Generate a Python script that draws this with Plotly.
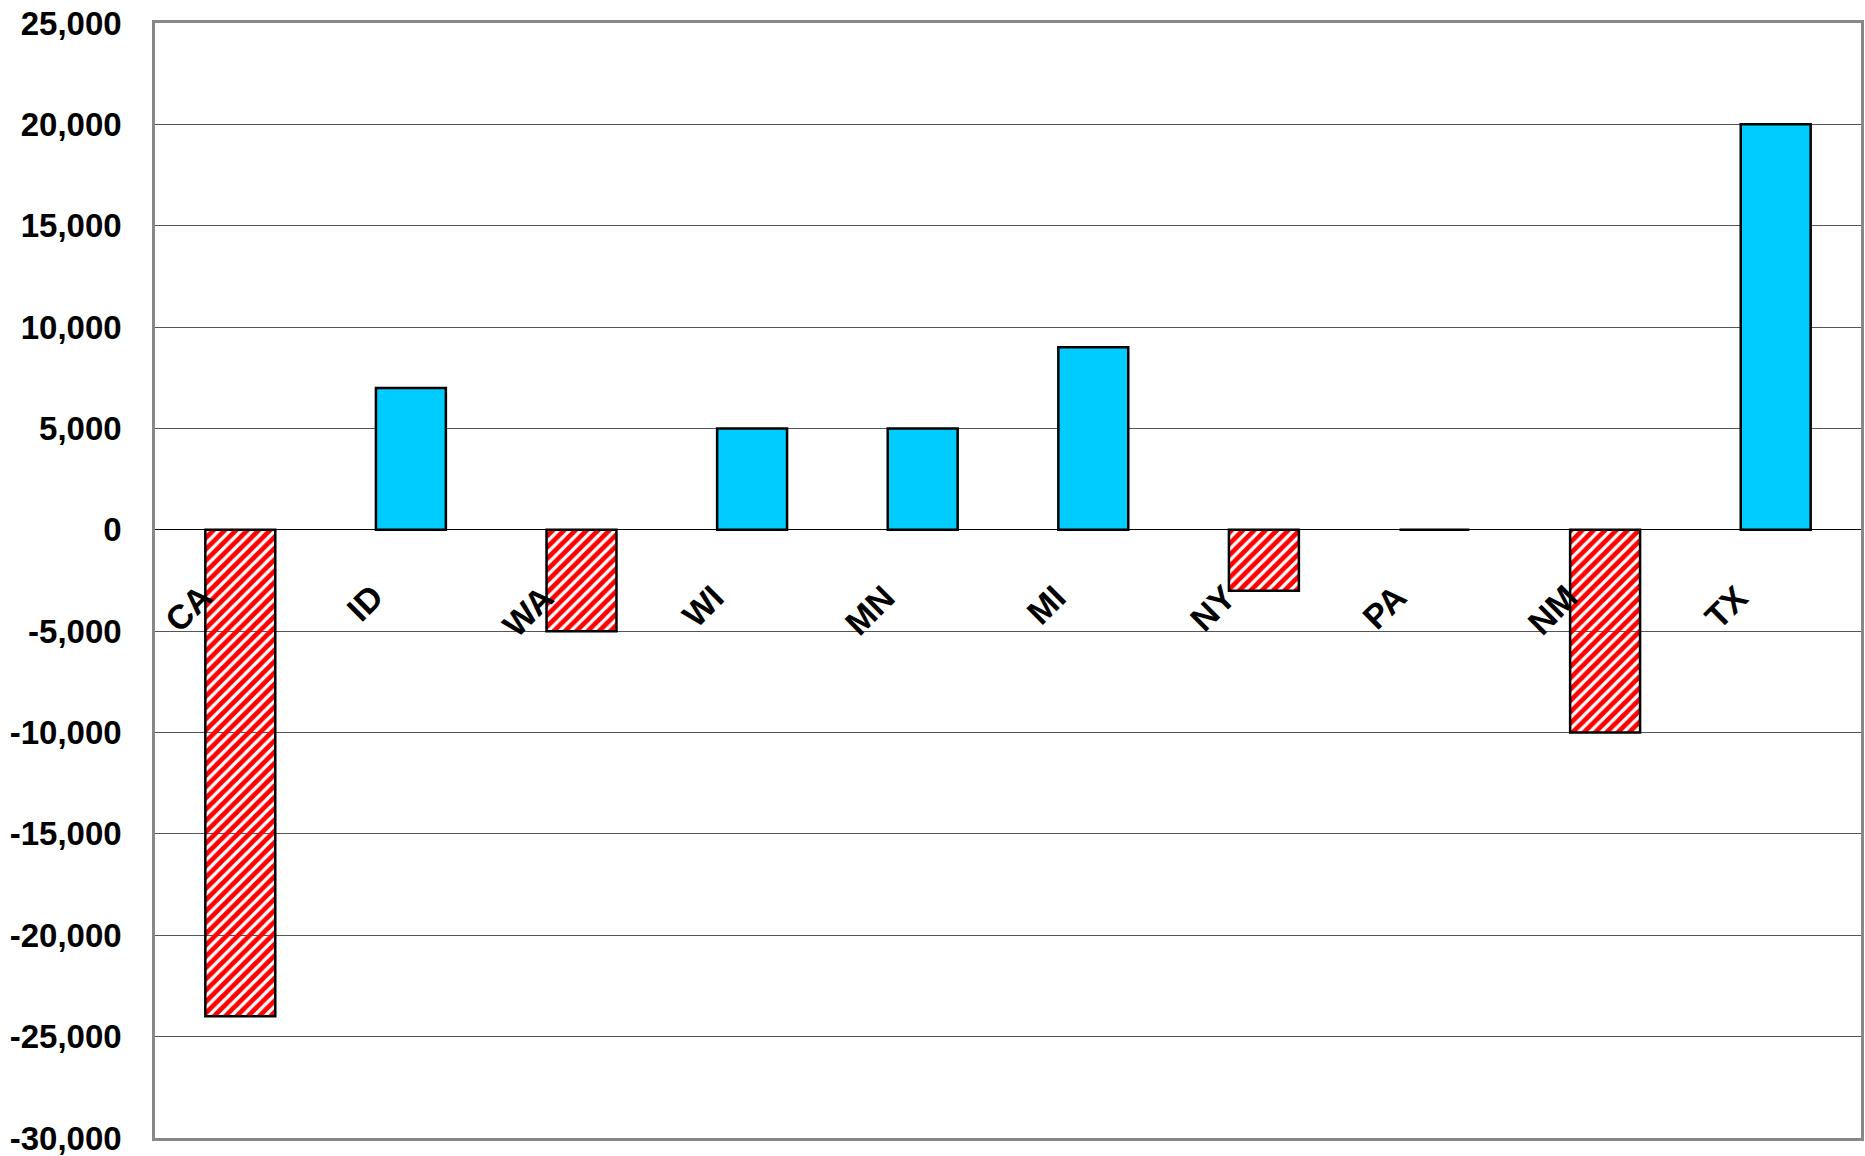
import plotly.graph_objects as go

states = ["CA", "ID", "WA", "WI", "MN", "MI", "NY", "PA", "NM", "TX"]
values = [-24000, 7000, -5000, 5000, 5000, 9000, -3000, 0, -10000, 20000]
y_ticks = [25000, 20000, 15000, 10000, 5000, 0, -5000, -10000, -15000, -20000, -25000, -30000]
y_tick_labels = [f"{v:,}" for v in y_ticks]

POS_COLOR = "#00CCFF"
NEG_COLOR = "#FF0000"
FONT = "Liberation Sans, Arial, sans-serif"

colors = [POS_COLOR if v >= 0 else NEG_COLOR for v in values]
shapes = ["" if v >= 0 else "/" for v in values]
bgs = [POS_COLOR if v >= 0 else "white" for v in values]

fig = go.Figure()
fig.add_trace(go.Bar(
    x=states,
    y=values,
    marker=dict(
        color=colors,
        line=dict(color="black", width=2.5),
        pattern=dict(shape=shapes, fgcolor=colors, bgcolor=bgs,
                     size=8, solidity=0.6, fillmode="replace"),
    ),
    showlegend=False,
))

for s in states:
    fig.add_annotation(
        x=s, y=0, xref="x", yref="y",
        text=s, showarrow=False, textangle=-45,
        xanchor="right", yanchor="top",
        xshift=-18, yshift=-45,
        font=dict(family=FONT, size=34, color="black", weight="bold"),
    )

fig.update_layout(
    width=1865, height=1156,
    margin=dict(l=155, r=4, t=23, b=18),
    paper_bgcolor="white", plot_bgcolor="white",
    bargap=0.59,
    font=dict(family=FONT),
)
fig.update_xaxes(
    showticklabels=False, showgrid=False, zeroline=False,
    showline=True, mirror=True, linecolor="#888888", linewidth=2.5,
    ticks="",
)
fig.update_yaxes(
    range=[-30000, 25000],
    tickvals=y_ticks, ticktext=y_tick_labels,
    tickfont=dict(family=FONT, size=33, color="black", weight="bold"),
    showgrid=True, gridcolor="#555555", gridwidth=1,
    zeroline=True, zerolinecolor="black", zerolinewidth=1.2,
    showline=True, mirror=True, linecolor="#888888", linewidth=2.5,
    ticks="", ticklabelstandoff=24, ticklabeloverflow="allow",
    automargin=False,
)

fig.write_html("out.html")
